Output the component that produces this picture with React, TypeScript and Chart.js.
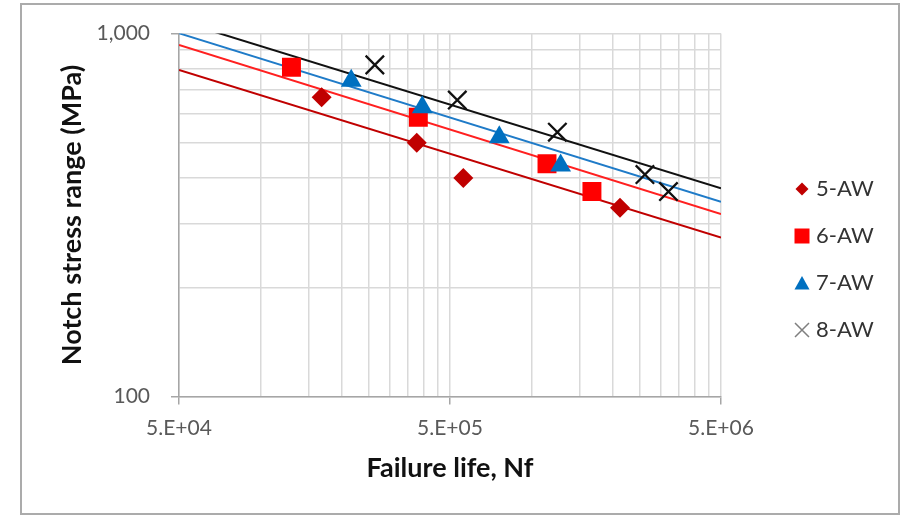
import React, { useEffect, useRef } from 'react';
import { Chart, registerables } from 'chart.js';

Chart.register(...registerables);

const FONT = "Lato, 'Open Sans', 'DejaVu Sans', sans-serif";

const seriesNames = ['5-AW', '6-AW', '7-AW', '8-AW'];

// Failure life (cycles) and notch stress range (MPa) of each test series
const life5 = [1.68e5, 3.77e5, 5.6e5, 2.12e6];
const stress5 = [668, 500, 400, 331];
const life6 = [1.3e5, 3.82e5, 1.14e6, 1.67e6];
const stress6 = [808, 588, 438, 367];
const life7 = [2.16e5, 3.95e5, 7.6e5, 1.28e6];
const stress7 = [742, 627, 518, 433];
const life8 = [2.64e5, 5.32e5, 1.245e6, 2.62e6, 3.2e6];
const stress8 = [820, 656, 535, 409, 367];

// Fitted S-N lines, given at the two ends of the life axis
const fitLife = [5e4, 5e6];
const fit5 = [794, 274];
const fit6 = [931, 318];
const fit7 = [1002, 344];
const fit8 = [1084, 375];

// Axis ticks / grid
const xTickValues = [
  5e4, 1e5, 1.5e5, 2e5, 2.5e5, 3e5, 3.5e5, 4e5, 4.5e5,
  5e5, 1e6, 1.5e6, 2e6, 2.5e6, 3e6, 3.5e6, 4e6, 4.5e6, 5e6,
];
const xMajorValues = [5e4, 5e5, 5e6];
const xMajorLabels = ['5.E+04', '5.E+05', '5.E+06'];
const yTickValues = [100, 200, 300, 400, 500, 600, 700, 800, 900, 1000];
const yMajorValues = [100, 1000];
const yMajorLabels = ['100', '1,000'];

const pts = (xs: number[], ys: number[]) => xs.map((x, i) => ({ x, y: ys[i] }));

// small legend marker images (Excel shows them at different sizes)
function legendMarker(kind: string, color: string): HTMLCanvasElement {
  const c = document.createElement('canvas');
  c.width = 18;
  c.height = 18;
  const g = c.getContext('2d') as CanvasRenderingContext2D;
  g.fillStyle = color;
  g.strokeStyle = color;
  const m = 9;
  g.beginPath();
  if (kind === 'diamond') {
    g.moveTo(m, m - 6.5);
    g.lineTo(m + 6.5, m);
    g.lineTo(m, m + 6.5);
    g.lineTo(m - 6.5, m);
    g.closePath();
    g.fill();
  } else if (kind === 'square') {
    g.rect(m - 7.5, m - 7.5, 15, 15);
    g.fill();
  } else if (kind === 'triangle') {
    g.moveTo(m, m - 7);
    g.lineTo(m + 7.5, m + 6.5);
    g.lineTo(m - 7.5, m + 6.5);
    g.closePath();
    g.fill();
  } else {
    g.lineWidth = 1.5;
    g.moveTo(m - 7, m - 7);
    g.lineTo(m + 7, m + 7);
    g.moveTo(m + 7, m - 7);
    g.lineTo(m - 7, m + 7);
    g.stroke();
  }
  return c;
}

const framePlugin = {
  id: 'frame',
  beforeDraw(chart: any) {
    const { ctx, width, height } = chart;
    ctx.save();
    ctx.fillStyle = '#ffffff';
    ctx.fillRect(0, 0, width, height);
    ctx.restore();
  },
  afterDraw(chart: any) {
    const { ctx } = chart;
    ctx.save();
    ctx.strokeStyle = '#ababab';
    ctx.lineWidth = 2;
    ctx.strokeRect(21, 4, 878, 510);
    ctx.restore();
  },
};

export default function App() {
  const ref = useRef<HTMLCanvasElement | null>(null);

  useEffect(() => {
    if (!ref.current) return;
    const gridColor = '#d9d9d9';
    const axisColor = '#a6a6a6';
    const tickColorFn = (c: any) => (c.tick && c.tick.major ? axisColor : 'rgba(0,0,0,0)');
    const markers = [
      legendMarker('diamond', '#C00000'),
      legendMarker('square', '#FF0000'),
      legendMarker('triangle', '#0070C0'),
      legendMarker('cross', '#7f7f7f'),
    ];

    const chart = new Chart(ref.current, {
      type: 'scatter',
      data: {
        datasets: [
          {
            label: seriesNames[0],
            data: pts(life5, stress5),
            pointStyle: 'rectRot',
            pointRadius: 10,
            pointBackgroundColor: '#C00000',
            pointBorderColor: '#C00000',
            pointBorderWidth: 0,
            backgroundColor: '#C00000',
            borderColor: '#C00000',
            order: 4,
          },
          {
            label: seriesNames[1],
            data: pts(life6, stress6),
            pointStyle: 'rect',
            pointRadius: 13.4,
            pointBackgroundColor: '#FF0000',
            pointBorderColor: '#FF0000',
            pointBorderWidth: 0,
            backgroundColor: '#FF0000',
            borderColor: '#FF0000',
            order: 3,
          },
          {
            label: seriesNames[2],
            data: pts(life7, stress7),
            pointStyle: 'triangle',
            pointRadius: 12,
            pointBackgroundColor: '#0070C0',
            pointBorderColor: '#0070C0',
            pointBorderWidth: 0,
            backgroundColor: '#0070C0',
            borderColor: '#0070C0',
            order: 2,
          },
          {
            label: seriesNames[3],
            data: pts(life8, stress8),
            pointStyle: 'crossRot',
            pointRadius: 13,
            pointBackgroundColor: '#000000',
            pointBorderColor: '#111111',
            pointBorderWidth: 2.3,
            backgroundColor: '#000000',
            borderColor: '#111111',
            order: 1,
          },
          {
            type: 'line',
            label: 'fit 5-AW',
            data: pts(fitLife, fit5),
            borderColor: '#C00000',
            borderWidth: 2,
            pointRadius: 0,
            fill: false,
            order: 10,
          },
          {
            type: 'line',
            label: 'fit 6-AW',
            data: pts(fitLife, fit6),
            borderColor: '#FF2020',
            borderWidth: 2,
            pointRadius: 0,
            fill: false,
            order: 10,
          },
          {
            type: 'line',
            label: 'fit 7-AW',
            data: pts(fitLife, fit7),
            borderColor: '#1F7BC8',
            borderWidth: 2,
            pointRadius: 0,
            fill: false,
            order: 10,
          },
          {
            type: 'line',
            label: 'fit 8-AW',
            data: pts(fitLife, fit8),
            borderColor: '#111111',
            borderWidth: 2,
            pointRadius: 0,
            fill: false,
            order: 10,
          },
        ] as any,
      },
      options: {
        animation: false,
        responsive: false,
        devicePixelRatio: 1,
        events: [],
        layout: { padding: { left: 24, right: 29, top: 33, bottom: 32 } },
        scales: {
          x: {
            type: 'logarithmic',
            position: 'bottom',
            min: 5e4,
            max: 5e6,
            afterBuildTicks: (s: any) => {
              s.ticks = xTickValues.map((v) => ({ value: v, major: xMajorValues.includes(v) }));
            },
            afterFit: (s: any) => {
              s.height = 89.5;
            },
            ticks: {
              autoSkip: false,
              maxRotation: 0,
              minRotation: 0,
              padding: 11,
              color: '#595959',
              font: { family: FONT, size: 21 },
              callback: (v: any) => {
                const i = xMajorValues.indexOf(Number(v));
                return i >= 0 ? xMajorLabels[i] : '';
              },
            },
            grid: {
              color: gridColor,
              lineWidth: 1.5,
              tickLength: 8,
              tickColor: tickColorFn,
              tickWidth: 1.5,
            },
            border: { color: axisColor, width: 1.5 },
            title: {
              display: true,
              text: 'Failure life, Nf',
              color: '#111111',
              font: { family: FONT, size: 27, weight: 'bold' },
              padding: { top: 0, bottom: 2 },
            },
          },
          y: {
            type: 'logarithmic',
            position: 'left',
            min: 100,
            max: 1000,
            afterBuildTicks: (s: any) => {
              s.ticks = yTickValues.map((v) => ({ value: v, major: yMajorValues.includes(v) }));
            },
            afterFit: (s: any) => {
              s.width = 155;
            },
            ticks: {
              autoSkip: false,
              padding: 21,
              color: '#595959',
              font: { family: FONT, size: 21 },
              callback: (v: any) => {
                const i = yMajorValues.indexOf(Number(v));
                return i >= 0 ? yMajorLabels[i] : '';
              },
            },
            grid: {
              color: gridColor,
              lineWidth: 1.5,
              tickLength: 8,
              tickColor: tickColorFn,
              tickWidth: 1.5,
            },
            border: { color: axisColor, width: 1.5 },
            title: {
              display: true,
              text: 'Notch stress range (MPa)',
              color: '#111111',
              font: { family: FONT, size: 27, weight: 'bold' },
              padding: { top: 32, bottom: 0 },
            },
          },
          gap: {
            type: 'linear',
            position: 'right',
            display: true,
            grid: { display: false, drawTicks: false },
            border: { display: false },
            ticks: { display: false },
            afterFit: (s: any) => {
              s.width = 53;
            },
          },
        } as any,
        plugins: {
          tooltip: { enabled: false },
          legend: {
            position: 'right',
            align: 'center',
            maxWidth: 100,
            labels: {
              usePointStyle: true,
              boxWidth: 6,
              boxHeight: 11,
              padding: 25,
              color: '#333333',
              font: { family: FONT, size: 22 },
              generateLabels: (c: any) =>
                (Chart.defaults.plugins.legend.labels.generateLabels as any)(c).map((it: any) =>
                  it.datasetIndex < 4 ? { ...it, pointStyle: markers[it.datasetIndex] } : it,
                ),
              filter: (it: any) => it.datasetIndex < 4,
              sort: (a: any, b: any) => a.datasetIndex - b.datasetIndex,
            },
          } as any,
        },
      } as any,
      plugins: [framePlugin],
    });
    return () => chart.destroy();
  }, []);

  return (
    <div style={{ position: 'absolute', left: 0, top: 0, width: 903, height: 518 }}>
      <canvas ref={ref} width={903} height={518} style={{ display: 'block' }} />
    </div>
  );
}
